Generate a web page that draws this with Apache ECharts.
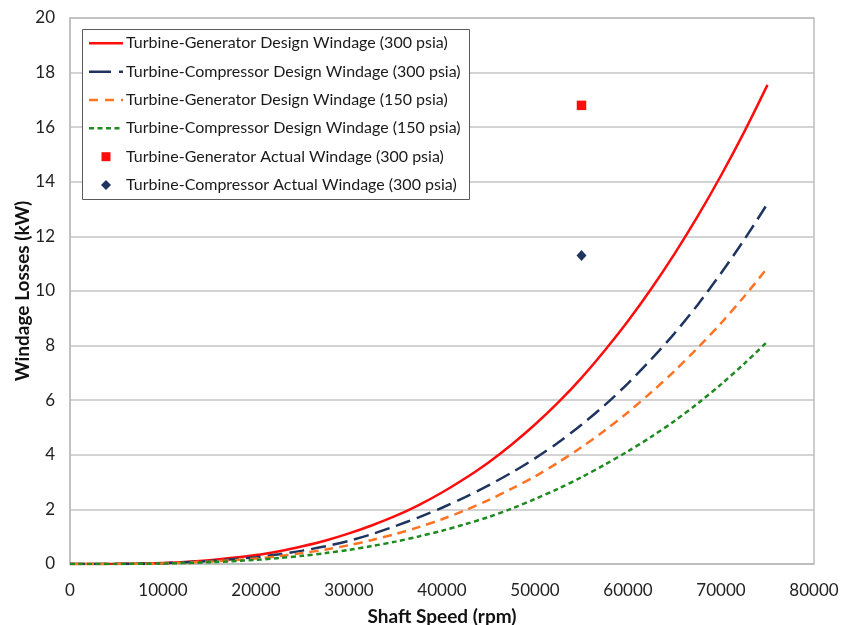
<!DOCTYPE html>
<html>
<head>
<meta charset="utf-8">
<script src="https://cdn.jsdelivr.net/npm/echarts@6/dist/echarts.min.js"></script>
<style>
  html, body { margin: 0; padding: 0; background: #fff; }
  #chart { width: 843px; height: 625px; }
</style>
</head>
<body>
<div id="chart"></div>
<script>
// Shaft speed samples (rpm)
const speeds = [0, 5000, 10000, 15000, 20000, 22500, 25000, 27500, 30000, 32500, 35000, 37500, 40000, 42500,
  45000, 47500, 50000, 52500, 55000, 57500, 60000, 62500, 65000, 67500, 70000, 72500, 75000];

// Design windage losses (kW) at each speed
const tgDesign300 = [0, 0.005, 0.04, 0.14, 0.33, 0.47, 0.65, 0.86, 1.12, 1.42, 1.76, 2.16, 2.62, 3.14,
  3.72, 4.38, 5.11, 5.92, 6.82, 7.82, 8.9, 10.08, 11.36, 12.74, 14.23, 15.83, 17.55];
const tcDesign300 = [0, 0.004, 0.03, 0.11, 0.25, 0.36, 0.49, 0.65, 0.85, 1.1, 1.39, 1.71, 2.06, 2.45,
  2.88, 3.35, 3.87, 4.45, 5.1, 5.82, 6.62, 7.5, 8.45, 9.5, 10.65, 11.88, 13.2];
const tgDesign150 = [0, 0.003, 0.025, 0.087, 0.2, 0.29, 0.4, 0.53, 0.69, 0.88, 1.1, 1.35, 1.64, 1.97,
  2.34, 2.76, 3.21, 3.72, 4.28, 4.89, 5.56, 6.29, 7.07, 7.92, 8.82, 9.8, 10.85];
const tcDesign150 = [0, 0.002, 0.019, 0.065, 0.15, 0.22, 0.3, 0.4, 0.52, 0.66, 0.82, 1.01, 1.22, 1.46,
  1.72, 2.03, 2.38, 2.76, 3.18, 3.64, 4.13, 4.66, 5.24, 5.88, 6.58, 7.34, 8.15];

// Measured windage (speed rpm, loss kW)
const tgActual300 = [[55000, 16.8]];
const tcActual300 = [[55000, 11.3]];

const seriesNames = [
  'Turbine-Generator Design Windage (300 psia)',
  'Turbine-Compressor Design Windage (300 psia)',
  'Turbine-Generator Design Windage (150 psia)',
  'Turbine-Compressor Design Windage (150 psia)',
  'Turbine-Generator Actual Windage (300 psia)',
  'Turbine-Compressor Actual Windage (300 psia)'
];

const xTicks = { min: 0, max: 80000, step: 10000 };
const yTicks = { min: 0, max: 20, step: 2 };

const FONT = 'Lato, "Open Sans", sans-serif';
const RED = '#ff0d0d', NAVY = '#1f3560', ORANGE = '#ff7424', GREEN = '#1f8a1f';

const pair = (ys) => speeds.map((s, i) => [s, ys[i]]);

function curve(name, ys, color, dash) {
  return {
    name: name,
    type: 'line',
    data: pair(ys),
    smooth: 0.3,
    showSymbol: false,
    symbol: 'none',
    lineStyle: { color: color, width: 2.5, type: dash },
    itemStyle: { color: color },
    z: 3
  };
}

// Hand-built legend box: line swatches with their own dash patterns
const LEG = { x: 82, y: 29, w: 387, h: 170, rowY: [43.3, 71.7, 100, 128.3, 156.7, 185], sx0: 89, sx1: 123, tx: 126 };
const legendSwatches = [
  { color: RED, dash: null },
  { color: NAVY, dash: [22, 8] },
  { color: ORANGE, dash: [9, 7] },
  { color: GREEN, dash: [5, 3.5] }
];
const legendGraphics = [{
  type: 'rect',
  shape: { x: LEG.x + 0.5, y: LEG.y + 0.5, width: LEG.w, height: LEG.h },
  style: { fill: '#fff', stroke: '#5a5a5a', lineWidth: 1 },
  z: 10
}];
legendSwatches.forEach((s, i) => {
  legendGraphics.push({
    type: 'line',
    shape: { x1: LEG.sx0, y1: LEG.rowY[i], x2: LEG.sx1, y2: LEG.rowY[i] },
    style: { stroke: s.color, lineWidth: 2.5, lineDash: s.dash },
    z: 11
  });
});
legendGraphics.push({
  type: 'rect',
  shape: { x: 101.5, y: LEG.rowY[4] - 4.5, width: 9, height: 9 },
  style: { fill: RED },
  z: 11
});
legendGraphics.push({
  type: 'polygon',
  shape: { points: [[106, LEG.rowY[5] - 5], [111, LEG.rowY[5]], [106, LEG.rowY[5] + 5], [101, LEG.rowY[5]]] },
  style: { fill: NAVY },
  z: 11
});
seriesNames.forEach((n, i) => {
  legendGraphics.push({
    type: 'text',
    x: LEG.tx, y: LEG.rowY[i],
    style: { text: n, fill: '#1a1a1a', font: '16px ' + FONT, verticalAlign: 'middle', align: 'left' },
    z: 11
  });
});

const chart = echarts.init(document.getElementById('chart'), null, { renderer: 'canvas' });
chart.setOption({
  animation: false,
  backgroundColor: '#ffffff',
  textStyle: { fontFamily: FONT },
  grid: { left: 70, right: 29, top: 18, bottom: 61, containLabel: false, outerBoundsMode: 'none', show: false },
  xAxis: {
    type: 'value',
    min: xTicks.min, max: xTicks.max, interval: xTicks.step,
    name: 'Shaft Speed (rpm)',
    nameLocation: 'middle',
    nameGap: 43,
    nameMoveOverlap: false,
    nameTextStyle: { fontFamily: FONT, fontSize: 19, fontWeight: 'bold', color: '#111' },
    axisLine: { show: true, lineStyle: { color: '#bdbdbd', width: 1.5 } },
    axisTick: { show: false },
    axisLabel: { fontFamily: FONT, fontSize: 17, color: '#222', margin: 18, formatter: (v) => String(v) },
    splitLine: { show: false }
  },
  yAxis: {
    type: 'value',
    min: yTicks.min, max: yTicks.max, interval: yTicks.step,
    name: 'Windage Losses (kW)',
    nameLocation: 'middle',
    nameGap: 38,
    nameMoveOverlap: false,
    nameTextStyle: { fontFamily: FONT, fontSize: 19, fontWeight: 'bold', color: '#111' },
    axisLine: { show: true, lineStyle: { color: '#bdbdbd', width: 1.5 } },
    axisTick: { show: false },
    axisLabel: { fontFamily: FONT, fontSize: 17, color: '#222', margin: 15 },
    splitLine: { show: true, lineStyle: { color: '#c4c4c4', width: 1.5 } }
  },
  graphic: [{
    type: 'rect',
    shape: { x: 70, y: 18, width: 744, height: 546 },
    style: { fill: 'none', stroke: '#bdbdbd', lineWidth: 1.5 },
    silent: true, z: 1
  }].concat(legendGraphics),
  series: [
    curve(seriesNames[0], tgDesign300, RED, 'solid'),
    curve(seriesNames[1], tcDesign300, NAVY, [15, 7]),
    curve(seriesNames[2], tgDesign150, ORANGE, [9, 6]),
    curve(seriesNames[3], tcDesign150, GREEN, [5, 3.5]),
    {
      name: seriesNames[4], type: 'scatter', data: tgActual300,
      symbol: 'rect', symbolSize: 9.5, itemStyle: { color: RED, opacity: 1 }, z: 4
    },
    {
      name: seriesNames[5], type: 'scatter', data: tcActual300,
      symbol: 'diamond', symbolSize: [10, 11], itemStyle: { color: NAVY, opacity: 1 }, z: 4
    }
  ]
});
</script>
</body>
</html>
